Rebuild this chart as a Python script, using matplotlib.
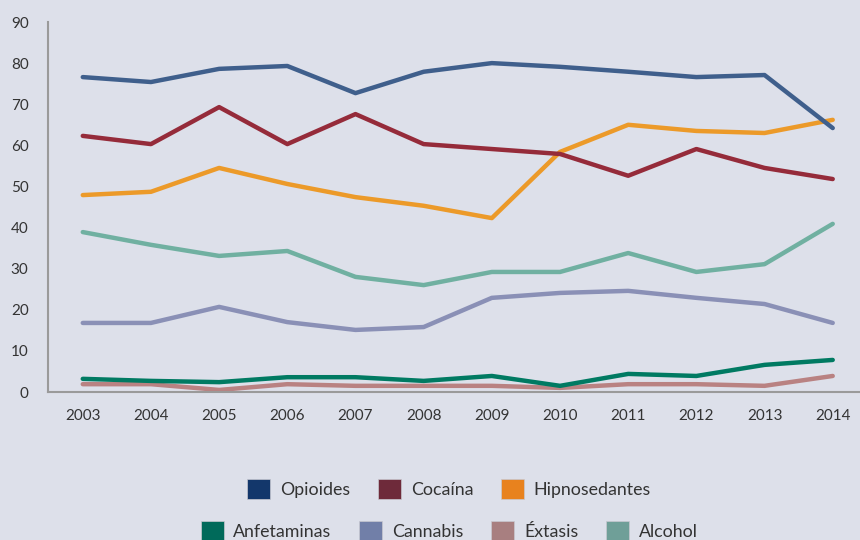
import matplotlib.pyplot as plt
from matplotlib.patches import Patch

plt.rcParams['font.family'] = ['Lato', 'DejaVu Sans']

years = [2003, 2004, 2005, 2006, 2007, 2008, 2009, 2010, 2011, 2012, 2013, 2014]

opioides = [76.6, 75.4, 78.6, 79.3, 72.7, 77.9, 80.0, 79.1, 77.9, 76.6, 77.1, 64.2]
cocaina = [62.3, 60.3, 69.3, 60.3, 67.6, 60.3, 59.1, 57.9, 52.6, 59.1, 54.5, 51.8]
hipnosedantes = [47.9, 48.7, 54.5, 50.6, 47.4, 45.3, 42.3, 58.4, 65.0, 63.5, 63.0, 66.2]
anfetaminas = [3.2, 2.7, 2.4, 3.6, 3.6, 2.7, 3.9, 1.5, 4.4, 3.9, 6.6, 7.8]
cannabis = [16.8, 16.8, 20.7, 17.0, 15.1, 15.8, 22.9, 24.1, 24.6, 22.9, 21.4, 16.8]
extasis = [1.9, 1.9, 0.5, 1.9, 1.5, 1.5, 1.5, 1.0, 1.9, 1.9, 1.5, 3.9]
alcohol = [38.9, 35.8, 33.1, 34.3, 28.0, 26.0, 29.2, 29.2, 33.8, 29.2, 31.1, 40.9]

names = ['Opioides', 'Cocaína', 'Hipnosedantes', 'Anfetaminas', 'Cannabis', 'Éxtasis', 'Alcohol']
series = [opioides, cocaina, hipnosedantes, anfetaminas, cannabis, extasis, alcohol]
line_colors = ['#3f5f8c', '#952b3a', '#ec9a29', '#007a62', '#8a90b6', '#b98282', '#70b0a1']
swatch_colors = ['#13376b', '#6e2a3a', '#e8821e', '#006a5a', '#717fa8', '#a87f80', '#6f9f98']

bg = '#dde0ea'
fig = plt.figure(figsize=(8.6, 5.4), dpi=100, facecolor=bg)
ax = fig.add_axes([48 / 860, 1 - 392 / 540, 1 - 48 / 860, (392 - 22) / 540])
ax.set_facecolor(bg)

# draw bottom series first so upper ones sit on top
for vals, c in zip(series[::-1], line_colors[::-1]):
    ax.plot(years, vals, color=c, lw=3.2, solid_capstyle='round', solid_joinstyle='round')

ax.set_xlim(2002.49, 2014.4)
ax.set_ylim(0, 90)
ax.set_yticks(range(0, 91, 10))
ax.set_xticks(years)
ax.tick_params(length=0, labelsize=11, colors='#333333', pad=12)
ax.tick_params(axis='y', pad=14)
for s in ['top', 'right']:
    ax.spines[s].set_visible(False)
for s in ['left', 'bottom']:
    ax.spines[s].set_color('#9a9a9a')
    ax.spines[s].set_linewidth(1.5)

handles = [Patch(facecolor=c, edgecolor='#c8c8d0', lw=0.5) for c in swatch_colors]
common = dict(frameon=False, fontsize=12.8, handlelength=1.3, handleheight=1.3,
              handletextpad=0.55, columnspacing=1.55, labelcolor='#333333')
fig.legend(handles[:3], names[:3], ncol=3, loc='center',
           bbox_to_anchor=(449 / 860, 1 - 489 / 540), **common)
fig.legend(handles[3:], names[3:], ncol=4, loc='center',
           bbox_to_anchor=(449 / 860, 1 - 531 / 540), **common)

fig.savefig('out.png', dpi=100, facecolor=bg)
